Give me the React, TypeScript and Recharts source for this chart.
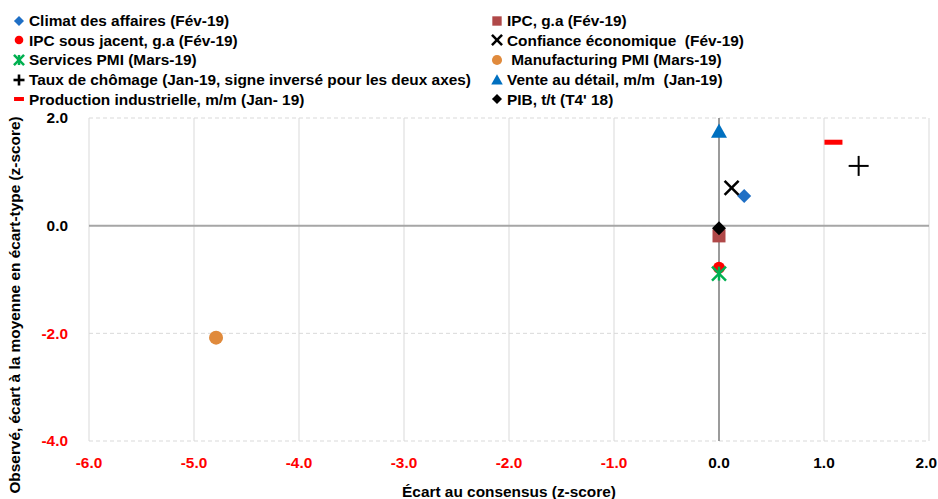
import { ScatterChart, Scatter, XAxis, YAxis, CartesianGrid, ReferenceLine } from "recharts";

const seriesNames = [
  "Climat des affaires (Fév-19)",
  "IPC, g.a (Fév-19)",
  "IPC sous jacent, g.a (Fév-19)",
  "Confiance économique  (Fév-19)",
  "Services PMI (Mars-19)",
  " Manufacturing PMI (Mars-19)",
  "Taux de chômage (Jan-19, signe inversé pour les deux axes)",
  "Vente au détail, m/m  (Jan-19)",
  "Production industrielle, m/m (Jan- 19)",
  "PIB, t/t (T4' 18)",
];
// écart au consensus (x) et observé en z-score (y)
const consensusGap = [0.24, 0, 0, 0.12, 0, -4.79, 1.33, 0, 1.09, 0];
const observedZ = [0.55, -0.19, -0.78, 0.7, -0.89, -2.08, 1.11, 1.75, 1.55, -0.05];
const xTicks = [-6, -5, -4, -3, -2, -1, 0, 1, 2];
const yTicks = [-4, -2, 0, 2];

const markerKinds = ["diamond", "square", "circle", "cross", "asterisk", "bigCircle", "plus", "triangle", "dash", "diamond"];
const markerColors = ["#1F6FC5", "#B04848", "#FF0000", "#000000", "#00B050", "#E08A3C", "#000000", "#0070C0", "#FF0000", "#000000"];

const FONT = "'Liberation Sans', Arial, sans-serif";
const FS = 15.4;

function Marker({ kind, color, cx, cy, s = 1, w = 1 }: { kind: string; color: string; cx: number; cy: number; s?: number; w?: number }) {
  switch (kind) {
    case "diamond": {
      const r = 7 * s;
      return <polygon points={`${cx},${cy - r} ${cx + r},${cy} ${cx},${cy + r} ${cx - r},${cy}`} fill={color} />;
    }
    case "square": {
      const r = 6.5 * s;
      return <rect x={cx - r} y={cy - r} width={2 * r} height={2 * r} fill={color} />;
    }
    case "circle":
      return <circle cx={cx} cy={cy} r={6 * s} fill={color} />;
    case "bigCircle":
      return <circle cx={cx} cy={cy} r={7 * s} fill={color} />;
    case "cross": {
      const r = 7 * s;
      return (
        <g stroke={color} strokeWidth={2.5 * w}>
          <line x1={cx - r} y1={cy - r} x2={cx + r} y2={cy + r} />
          <line x1={cx - r} y1={cy + r} x2={cx + r} y2={cy - r} />
        </g>
      );
    }
    case "asterisk": {
      const r = 7 * s;
      return (
        <g stroke={color} strokeWidth={2.5 * w}>
          <line x1={cx - r} y1={cy - r} x2={cx + r} y2={cy + r} />
          <line x1={cx - r} y1={cy + r} x2={cx + r} y2={cy - r} />
          <line x1={cx} y1={cy - r} x2={cx} y2={cy + r} />
        </g>
      );
    }
    case "plus": {
      const r = 10 * s;
      return (
        <g stroke={color} strokeWidth={2 * w}>
          <line x1={cx - r} y1={cy} x2={cx + r} y2={cy} />
          <line x1={cx} y1={cy - r} x2={cx} y2={cy + r} />
        </g>
      );
    }
    case "triangle": {
      const r = 8 * s;
      return <polygon points={`${cx},${cy - r} ${cx + r},${cy + r * 0.8} ${cx - r},${cy + r * 0.8}`} fill={color} />;
    }
    case "dash": {
      const hw = 9 * s;
      return <rect x={cx - hw} y={cy - 2.5 * w} width={2 * hw} height={5 * w} fill={color} />;
    }
    default:
      return null;
  }
}

function XTick({ x, y, payload }: any) {
  const v = payload.value;
  const last = v === xTicks[xTicks.length - 1];
  return (
    <text x={last ? x + 8 : x} y={y} dy="0.71em" textAnchor={last ? "end" : "middle"} fontFamily={FONT} fontWeight="bold" fontSize={FS} fill={v < 0 ? "#FF0000" : "#000"}>
      {v.toFixed(1)}
    </text>
  );
}

function YTick({ x, y, payload }: any) {
  const v = payload.value;
  return (
    <text x={x} y={y} dy="0.35em" textAnchor="end" fontFamily={FONT} fontWeight="bold" fontSize={FS} fill={v < 0 ? "#FF0000" : "#000"}>
      {v.toFixed(1)}
    </text>
  );
}

function LegendItem({ i }: { i: number }) {
  const col = i % 2;
  const row = Math.floor(i / 2);
  const k = markerKinds[i];
  return (
    <div
      style={{
        position: "absolute",
        left: col === 0 ? 11 : 489,
        top: 11 + row * 19.7,
        display: "flex",
        alignItems: "center",
        whiteSpace: "pre",
        fontFamily: FONT,
        fontWeight: "bold",
        fontSize: FS,
        lineHeight: "19px",
        color: "#000",
      }}
    >
      <svg width={16} height={16} style={{ marginRight: 2 }}>
        <Marker kind={k} color={markerColors[i]} cx={8} cy={8} s={k === "plus" || k === "dash" ? 0.55 : 0.72} w={k === "plus" ? 1.3 : k === "dash" ? 0.8 : 1} />
      </svg>
      {seriesNames[i]}
    </div>
  );
}

export default function App() {
  return (
    <div style={{ position: "absolute", left: 0, top: 0, width: 938, height: 499, background: "#fff" }}>
      {seriesNames.map((_, i) => (
        <LegendItem key={i} i={i} />
      ))}
      <ScatterChart width={938} height={499} margin={{ top: 118, right: 9, left: 0, bottom: 0 }}>
        <CartesianGrid horizontal={false} stroke="#D9D9D9" />
        <CartesianGrid vertical={false} stroke="#D9D9D9" strokeDasharray="4 3" />
        <XAxis
          type="number"
          dataKey="x"
          domain={[-6, 2]}
          ticks={xTicks}
          height={58}
          axisLine={false}
          tickLine={false}
          tickSize={0}
          tickMargin={16}
          tick={<XTick />}
          label={{
            content: () => (
              <text x={509} y={492} dy="0.35em" textAnchor="middle" fontFamily={FONT} fontWeight="bold" fontSize={FS} fill="#000">
                Écart au consensus (z-score)
              </text>
            ),
          }}
        />
        <YAxis
          type="number"
          dataKey="y"
          domain={[-4, 2]}
          ticks={yTicks}
          width={89}
          axisLine={false}
          tickLine={false}
          tickSize={0}
          tickMargin={21}
          tick={<YTick />}
          label={{
            content: () => (
              <text x={15} y={305} dy="0.35em" transform="rotate(-90 15 305)" textAnchor="middle" fontFamily={FONT} fontWeight="bold" fontSize={FS} fill="#000">
                Observé, écart à la moyenne en écart-type (z-score)
              </text>
            ),
          }}
        />
        <ReferenceLine y={0} stroke="#A6A6A6" strokeWidth={2} />
        <ReferenceLine x={0} stroke="#808080" strokeWidth={1.5} />
        {seriesNames.map((name, i) => (
          <Scatter
            key={name}
            name={name}
            data={[{ x: consensusGap[i], y: observedZ[i] }]}
            isAnimationActive={false}
            shape={(p: any) => <Marker kind={markerKinds[i]} color={markerColors[i]} cx={p.cx} cy={p.cy} />}
          />
        ))}
      </ScatterChart>
    </div>
  );
}
